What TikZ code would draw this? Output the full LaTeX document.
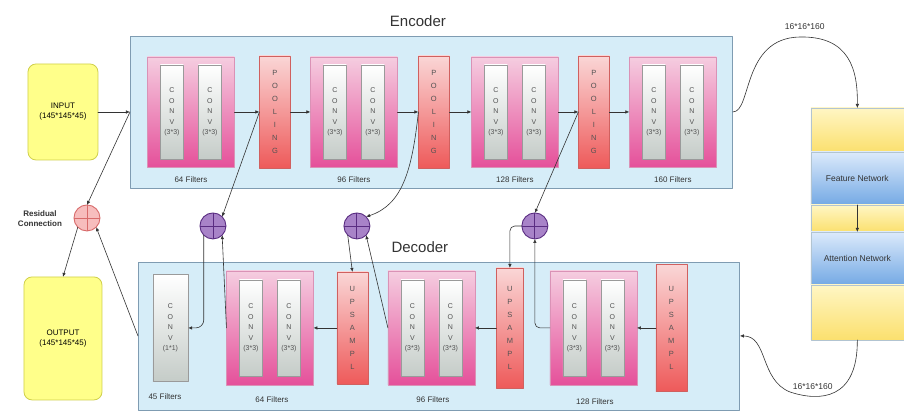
\documentclass[tikz,border=0pt]{standalone}
\usepackage{fontspec}
\setmainfont{Liberation Sans}
\usetikzlibrary{arrows.meta,calc,positioning}
\definecolor{unetPanel}{HTML}{D6EDF8}
\definecolor{unetPanelLine}{HTML}{7F9CB2}
\definecolor{unetPinkTop}{HTML}{F5CDE0}
\definecolor{unetPinkBot}{HTML}{E5509A}
\definecolor{unetPinkLine}{HTML}{C24A86}
\definecolor{unetRedTop}{HTML}{FAD6D6}
\definecolor{unetRedBot}{HTML}{EE5A5A}
\definecolor{unetRedLine}{HTML}{D0605F}
\definecolor{unetGreyBot}{HTML}{C5CCC8}
\definecolor{unetGreyLine}{HTML}{9A9A9A}
\definecolor{unetYellow}{HTML}{FFFF8A}
\definecolor{unetYellowLine}{HTML}{CFCF4A}
\definecolor{unetSandTop}{HTML}{FFF6C4}
\definecolor{unetSandBot}{HTML}{FBE06E}
\definecolor{unetSkyTop}{HTML}{DCEAFB}
\definecolor{unetSkyBot}{HTML}{74A9E4}
\definecolor{unetPurple}{HTML}{A883C8}
\definecolor{unetPurpleLine}{HTML}{5A2D82}
\definecolor{unetRose}{HTML}{F7BDBD}
\definecolor{unetRoseLine}{HTML}{D86B6B}
\definecolor{unetInk}{HTML}{333333}

\begin{document}
\begin{tikzpicture}[x=1pt,y=-1pt,>=Latex,line cap=round,line join=round]
\path[fill=white] (0,0) rectangle (904,414);
\tikzset{panel/.style={draw=unetPanelLine,fill=unetPanel,line width=0.8pt,inner sep=0pt,outer sep=0pt},
  group/.style={draw=unetPinkLine!60,top color=unetPinkTop,bottom color=unetPinkBot,minimum width=87pt,inner sep=0pt,outer sep=0pt},
  conv/.style={draw=unetGreyLine,top color=white,bottom color=unetGreyBot,minimum width=23pt,minimum height=94pt,inner sep=0pt,align=center,font=\fontsize{7}{10.5}\selectfont,text=unetInk!85},
  layer/.style={draw=unetRedLine,top color=unetRedTop,bottom color=unetRedBot,minimum width=31pt,inner sep=0pt,outer sep=0pt,align=center,font=\fontsize{7.5}{13}\selectfont,text=unetInk!85},
  io/.style={draw=unetYellowLine,fill=unetYellow,rounded corners=8pt,line width=0.8pt,align=center,inner sep=0pt,outer sep=0pt,font=\fontsize{8}{10}\selectfont},
  band/.style={draw=unetPanelLine!60,minimum width=93pt,inner sep=0pt,outer sep=0pt,font=\fontsize{8.5}{10}\selectfont,text=unetInk},
  adder/.style 2 args={circle,draw=#2,fill=#1,minimum size=26pt,inner sep=0pt,outer sep=0pt,line width=0.9pt,
    path picture={\draw[#2,line width=0.9pt] (path picture bounding box.north) -- (path picture bounding box.south) (path picture bounding box.west) -- (path picture bounding box.east);}},
  link/.style={draw=unetInk,line width=0.6pt,-{Latex[length=4pt,width=3.5pt]}},
  heading/.style={font=\fontsize{15}{17}\selectfont,text=unetInk},
  caption/.style={font=\fontsize{8}{10}\selectfont,text=unetInk}}
% encoder
\node[heading] (enctitle) at (418,21) {Encoder};
\node[panel,minimum width=603pt,minimum height=152pt] (enc) at (431.5,112) {};
\node[io,minimum width=70pt,minimum height=96pt] (inp) at (63,112) {INPUT\\(145*145*45)};
\foreach \n/\x/\f in {e1/191/64,e2/354/96,e3/515/128,e4/673/160}{
  \node[group,minimum height=110pt] (\n) at (\x,112) {};
  \node[conv] (\n-a) at ($(\n)+(-19,0)$) {C\\O\\N\\V\\(3*3)};
  \node[conv] (\n-b) at ($(\n)+(19,0)$) {C\\O\\N\\V\\(3*3)};
  \node[caption] (\n-f) at (\x,180) {\f{} Filters};
}
\foreach \n/\x in {p1/275,p2/434,p3/594}
  \node[layer,minimum height=112pt] (\n) at (\x,112) {P\\O\\O\\L\\I\\N\\G};
\draw[link] (inp.east) -- (enc.west);
\draw[link] (e1.east) -- (p1.west); \draw[link] (p1.east) -- (e2.west);
\draw[link] (e2.east) -- (p2.west); \draw[link] (p2.east) -- (e3.west);
\draw[link] (e3.east) -- (p3.west); \draw[link] (p3.east) -- (e4.west);
% attention stack
\node[band,top color=unetSandTop,bottom color=unetSandBot,minimum height=44pt] (s1) at (857.5,130) {};
\node[band,top color=unetSkyTop,bottom color=unetSkyBot,minimum height=53pt] (n1) at (857.5,178.5) {Feature Network};
\node[band,top color=unetSandTop,bottom color=unetSandBot,minimum height=27pt] (s2) at (857.5,218.5) {};
\node[band,top color=unetSkyTop,bottom color=unetSkyBot,minimum height=53pt] (n2) at (857.5,258.5) {Attention Network};
\node[band,top color=unetSandTop,bottom color=unetSandBot,minimum height=55pt] (s3) at (857.5,312.5) {};
\draw[link] (n1.south) -- (n2.north);
% decoder
\node[heading] (dectitle) at (420,247) {Decoder};
\node[panel,minimum width=602pt,minimum height=148pt] (dec) at (439,336) {};
\node[io,minimum width=78pt,minimum height=123pt] (outp) at (63,338.5) {OUTPUT\\(145*145*45)};
\foreach \n/\x/\f/\lx/\ly in {d3/593.5/128/595/402,d2/431.5/96/433/400,d1/270/64/272/400}{
  \node[group,minimum height=114pt] (\n) at (\x,328) {};
  \node[conv,minimum height=96pt] (\n-a) at ($(\n)+(-19,0)$) {C\\O\\N\\V\\(3*3)};
  \node[conv,minimum height=96pt] (\n-b) at ($(\n)+(19,0)$) {C\\O\\N\\V\\(3*3)};
  \node[caption] (\n-f) at (\lx,\ly) {\f{} Filters};
}
\node[layer,minimum height=127pt] (u3) at (671.5,328) {U\\P\\S\\A\\M\\P\\L};
\node[layer,minimum width=27pt,minimum height=120pt] (u2) at (510,328) {U\\P\\S\\A\\M\\P\\L};
\node[layer,minimum height=112pt] (u1) at (352.5,328) {U\\P\\S\\A\\M\\P\\L};
\node[conv,minimum width=35pt,minimum height=107pt] (cv) at (170.5,328) {C\\O\\N\\V\\(1*1)};
\node[caption] (cv-f) at (165,397) {45 Filters};
\draw[link] (u3.west) -- (d3.east); \draw[link] (u2.west) -- (d2.east); \draw[link] (u1.west) -- (d1.east);
% skip connections
\node[adder={unetPurple}{unetPurpleLine}] (A1) at (213,226) {};
\node[adder={unetPurple}{unetPurpleLine}] (A2) at (357,226) {};
\node[adder={unetPurple}{unetPurpleLine}] (A3) at (535,226) {};
\node[adder={unetRose}{unetRoseLine}] (res) at (87,218) {};
\node[font=\bfseries\fontsize{8}{10}\selectfont,text=unetInk,align=center] (reslabel) at (40,219) {Residual\\Connection};
\draw[link] (p1.west) -- (A1.north east);
\draw[link] (p2.west) .. controls (412,172) and (402,205) .. (A2.north east);
\draw[link] (p3.west) -- (A3.north);
\draw[link,rounded corners=5pt] (d3.west) -| (A3.south);
\draw[link,rounded corners=5pt] (A3.west) -| (u2.north);
\draw[link] (d2.west) -- (A2.south east);
\draw[link] (A2.south west) -- (u1.north);
\draw[link] (d1.west) -- (A1.south east);
\draw[link,rounded corners=8pt] (A1.south west) |- (cv.east);
\draw[link] (enc.west) -- (res.north);
\draw[link] (dec.west) -- (res.south east);
\draw[link] (res.south west) -- (outp.north);
% bottleneck
\draw[link] (enc.east) .. controls (752,112) and (742,38) .. (800,37) .. controls (850,36) and (858,70) .. (s1.north);
\node[caption,font=\fontsize{8.5}{10}\selectfont] (bt1) at (805,27) {16*16*160};
\draw[link] (s3.south) .. controls (858,400) and (820,402) .. (790,392) .. controls (760,380) and (768,336) .. (dec.east);
\node[caption,font=\fontsize{8.5}{10}\selectfont] (bt2) at (813,387) {16*16*160};
\end{tikzpicture}
\end{document}
